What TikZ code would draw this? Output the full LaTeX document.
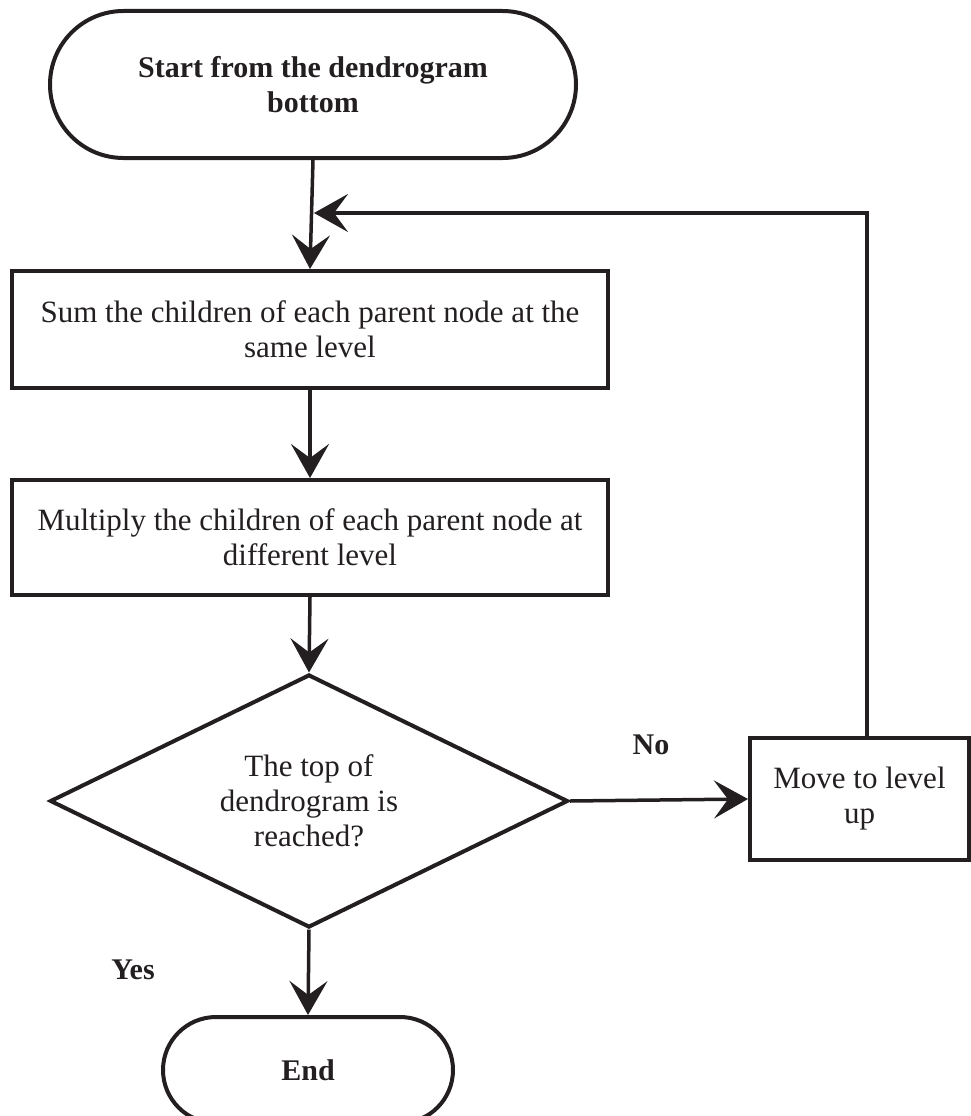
\documentclass[tikz,border=0pt]{standalone}
\usepackage{fontspec}
\setmainfont{Liberation Serif}
\usetikzlibrary{shapes.misc,shapes.geometric,arrows.meta}
\definecolor{ink}{HTML}{231F20}
\tikzset{
  base/.style={draw=ink, line width=4pt, text=ink, align=center, inner sep=0pt,
    font=\fontsize{31}{35}\selectfont},
  term/.style={base, rounded rectangle, font=\fontsize{30}{35}\selectfont\bfseries},
  proc/.style={base, rectangle},
  decide/.style={base, diamond, aspect=2.05},
  arr/.style={draw=ink, line width=3.5pt, -{Stealth[length=34pt, width=38pt, inset=14pt]}},
  lbl/.style={text=ink, font=\fontsize{30}{35}\selectfont\bfseries, inner sep=0pt}
}
\begin{document}
\begin{tikzpicture}[x=1pt, y=-1pt]
\useasboundingbox (0,0) rectangle (971,1116);
\node[term, minimum width=526pt, minimum height=147pt] (start) at (313,84.5)
  {Start from the dendrogram\\bottom};
\node[proc, minimum width=596pt, minimum height=117pt] (sum) at (310,329.5)
  {Sum the children of each parent node at the\\same level};
\node[proc, minimum width=596pt, minimum height=115pt] (mul) at (310,537.5)
  {Multiply the children of each parent node at\\different level};
\node[decide, minimum width=518pt, minimum height=253pt] (top) at (309,801)
  {The top of\\dendrogram is\\reached?};
\node[proc, minimum width=219pt, minimum height=122pt] (move) at (859.5,799)
  {Move to level\\up};
\node[term, minimum width=290pt, minimum height=106pt] (end) at (308,1070) {End};
\node[lbl] (no) at (651,745) {No};
\node[lbl] (yes) at (133,970) {Yes};
\coordinate (fb) at (314,213);
\draw[arr] (start.south) -- (sum.north);
\draw[arr] (sum.south) -- (mul.north);
\draw[arr] (mul.south) -- (top.north);
\draw[arr] (top.east) -- (move.west);
\draw[arr] (top.south) -- (end.north);
\draw[arr] ([xshift=7.5pt]move.north) |- (fb);
\end{tikzpicture}
\end{document}
